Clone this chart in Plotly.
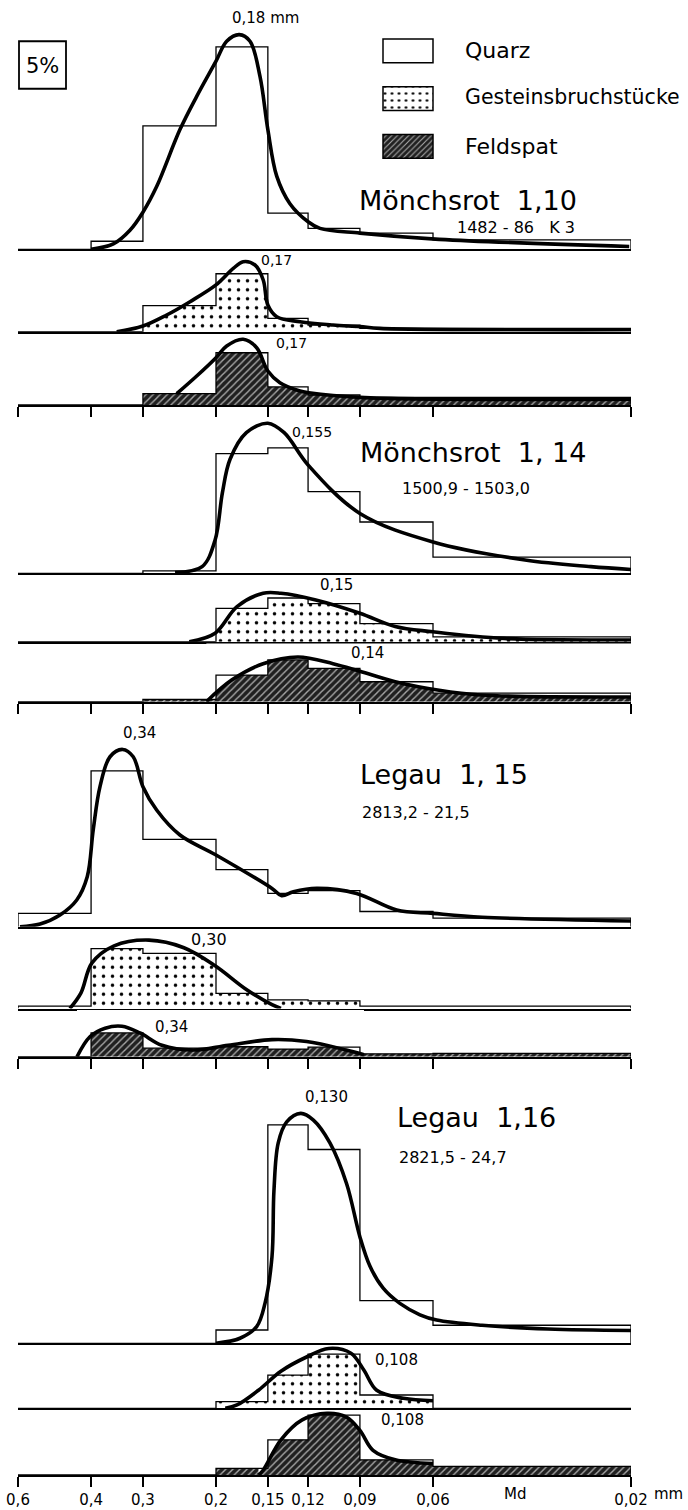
import math
import plotly.graph_objects as go

W, H = 688, 1510
PX_PER_PCT = 9.5
FONT = "DejaVu Sans"

# ---------------- data ----------------
EDGES = [0.6, 0.4, 0.3, 0.2, 0.15, 0.12, 0.09, 0.06, 0.02]
EDGE_LABELS = ["0,6", "0,4", "0,3", "0,2", "0,15", "0,12", "0,09", "0,06", "0,02"]
LEGEND_NAMES = ["Quarz", "Gesteinsbruchstücke", "Feldspat"]

# histogram values in % for the 8 bins between EDGES
m110_quarz = [0, 0.85, 13.0, 21.3, 3.8, 2.2, 1.7, 1.0]
m110_gestein = [0, 0, 2.75, 6.1, 1.4, 0.7, 0.35, 0.35]
m110_feldspat = [0, 0, 1.2, 5.5, 1.9, 1.05, 0.8, 0.8]
m114_quarz = [0, 0, 0.25, 12.6, 13.2, 8.6, 5.4, 1.7]
m114_gestein = [0, 0, 0, 3.5, 4.6, 4.0, 1.9, 0.5]
m114_feldspat = [0, 0, 0.25, 2.8, 4.4, 3.5, 2.1, 0.9]
l115_quarz = [1.4, 16.4, 9.2, 6.0, 3.5, 3.8, 1.6, 0.9]
l115_gestein = [0.25, 6.3, 5.8, 1.6, 0.9, 0.8, 0.25, 0.25]
l115_feldspat = [0, 2.5, 0.9, 1.05, 0.8, 1.0, 0.3, 0.35]
l116_quarz = [0, 0, 0, 1.4, 23.0, 20.4, 4.5, 1.9]
l116_gestein = [0, 0, 0, 0.7, 3.5, 5.7, 1.4, 0]
l116_feldspat = [0, 0, 0, 0.7, 3.7, 6.3, 1.6, 0.9]

# smoothed frequency curves (grain size mm, %)
m110_quarz_cx = [0.40, 0.3535, 0.3224, 0.30, 0.278, 0.2443, 0.2226, 0.20, 0.1885, 0.1758, 0.1656,
                 0.1567, 0.15, 0.1428, 0.1327, 0.12, 0.1123, 0.09, 0.058, 0.0202]
m110_quarz_cy = [0, 0.56, 2.0, 3.9, 6.6, 12.6, 16.1, 19.8, 21.9, 22.6, 21.9,
                 18.2, 12.6, 7.7, 4.8, 2.9, 2.2, 1.7, 1.05, 0.3]
m110_gestein_cx = [0.347, 0.30, 0.263, 0.231, 0.20, 0.1817, 0.172, 0.1611, 0.1539, 0.15, 0.1428,
                   0.1255, 0.1045, 0.09, 0.0805, 0.02]
m110_gestein_cy = [0, 0.6, 1.76, 3.16, 4.92, 6.66, 7.37, 7.02, 5.44, 2.81, 1.58,
                   1.05, 0.7, 0.53, 0.35, 0.2]
m110_feldspat_cx = [0.2487, 0.2226, 0.20, 0.1885, 0.172, 0.1596, 0.15, 0.1403, 0.1255, 0.1195, 0.09, 0.02]
m110_feldspat_cy = [1.19, 3.05, 4.98, 6.21, 6.92, 6.03, 3.58, 2.35, 1.47, 1.29, 0.8, 0.6]

m114_quarz_cx = [0.251, 0.216, 0.201, 0.193, 0.185, 0.169, 0.15, 0.137, 0.12, 0.09, 0.06, 0.036, 0.025, 0.02]
m114_quarz_cy = [0.07, 0.7, 3.5, 8.5, 12.0, 14.8, 15.8, 14.8, 11.4, 6.3, 3.3, 1.4, 0.7, 0.4]
m114_gestein_cx = [0.232, 0.201, 0.178, 0.154, 0.1395, 0.115, 0.09, 0.074, 0.06, 0.0405, 0.02]
m114_gestein_cy = [0, 0.9, 3.7, 5.1, 5.1, 4.4, 3.0, 1.6, 1.05, 0.35, 0.18]
m114_feldspat_cx = [0.211, 0.183, 0.154, 0.127, 0.1045, 0.09, 0.074, 0.058, 0.046, 0.02]
m114_feldspat_cy = [0, 2.3, 4.0, 4.7, 4.0, 3.2, 2.1, 1.2, 0.7, 0.5]

l115_quarz_cx = [0.5934, 0.531, 0.4753, 0.4331, 0.4086, 0.3953, 0.3807, 0.3601, 0.3357, 0.3166, 0.30,
                 0.278, 0.2443, 0.20, 0.1466, 0.139, 0.1302, 0.1144, 0.0917, 0.0734, 0.06, 0.0457, 0.02]
l115_quarz_cy = [0, 0.28, 1.23, 2.81, 5.26, 10.18, 14.74, 17.89, 18.66, 17.89, 14.74,
                 12.28, 9.65, 7.55, 4.03, 3.26, 3.68, 4.03, 3.5, 1.76, 1.4, 1.0, 0.6]
l115_gestein_cx = [0.45, 0.423, 0.398, 0.352, 0.29, 0.239, 0.201, 0.169, 0.1466, 0.1395]
l115_gestein_cy = [0, 1.65, 4.8, 6.6, 7.2, 6.4, 4.5, 2.0, 0.4, 0]
l115_feldspat_cx = [0.4325, 0.4025, 0.37, 0.337, 0.305, 0.27, 0.227, 0.187, 0.1466, 0.121, 0.097, 0.088]
l115_feldspat_cy = [0, 2.1, 3.0, 3.2, 2.5, 1.2, 0.7, 1.2, 1.8, 1.6, 0.7, 0.2]

l116_quarz_cx = [0.2, 0.1751, 0.1596, 0.1524, 0.1466, 0.145, 0.1416, 0.1351, 0.125, 0.1165, 0.1063,
                 0.0969, 0.09, 0.0851, 0.0791, 0.0721, 0.0645, 0.0588, 0.0457, 0.0317, 0.02]
l116_quarz_cy = [0, 0.53, 1.76, 4.2, 9.1, 16.1, 21.1, 23.3, 24.2, 23.5, 21.1,
                 16.8, 11.2, 8.1, 5.8, 4.2, 3.0, 2.45, 1.9, 1.5, 1.35]
l116_gestein_cx = [0.19, 0.178, 0.158, 0.1395, 0.121, 0.107, 0.0946, 0.088, 0.082, 0.0707, 0.06]
l116_gestein_cy = [0, 0.35, 1.9, 3.9, 5.4, 6.3, 5.8, 4.0, 1.9, 1.05, 0.8]
l116_feldspat_cx = [0.158, 0.154, 0.1395, 0.124, 0.108, 0.097, 0.09, 0.0837, 0.074, 0.06]
l116_feldspat_cy = [0, 0.5, 3.7, 5.8, 6.5, 6.1, 4.7, 2.6, 1.6, 1.2]

PANELS = [
    ("quarz", m110_quarz, m110_quarz_cx, m110_quarz_cy),
    ("gestein", m110_gestein, m110_gestein_cx, m110_gestein_cy),
    ("feldspat", m110_feldspat, m110_feldspat_cx, m110_feldspat_cy),
    ("quarz", m114_quarz, m114_quarz_cx, m114_quarz_cy),
    ("gestein", m114_gestein, m114_gestein_cx, m114_gestein_cy),
    ("feldspat", m114_feldspat, m114_feldspat_cx, m114_feldspat_cy),
    ("quarz", l115_quarz, l115_quarz_cx, l115_quarz_cy),
    ("gestein", l115_gestein, l115_gestein_cx, l115_gestein_cy),
    ("feldspat", l115_feldspat, l115_feldspat_cx, l115_feldspat_cy),
    ("quarz", l116_quarz, l116_quarz_cx, l116_quarz_cy),
    ("gestein", l116_gestein, l116_gestein_cx, l116_gestein_cy),
    ("feldspat", l116_feldspat, l116_feldspat_cx, l116_feldspat_cy),
]

# ---------------- layout geometry (pixels) ----------------
BASE_PX = [249.3, 331.7, 405, 573.3, 641.7, 701.7, 926.7, 1008.5, 1056.7, 1343.3, 1408.3, 1475]
TOP_PX = [0] + BASE_PX[:-1]
X_LEFT_PX, X_RIGHT_PX = 18, 631


def fx(px):
    return px / W


def fy(px):
    return 1 - px / H


DOTS = dict(shape=".", fgcolor="black", bgcolor="white", size=9, solidity=0.12)
HATCH = dict(shape="/", fgcolor="#a8a8a8", bgcolor="#202020", size=5, solidity=0.28)
PATTERN = {"gestein": DOTS, "feldspat": HATCH}
BGCOL = {"gestein": "white", "feldspat": "#202020"}

fig = go.Figure()
layout = dict(
    template="none",
    width=W, height=H, margin=dict(l=0, r=0, t=0, b=0, pad=0, autoexpand=False),
    paper_bgcolor="white", plot_bgcolor="rgba(0,0,0,0)",
    showlegend=False, font=dict(family=FONT, color="black"),
)

xrange = [math.log10(EDGES[0]), math.log10(EDGES[-1])]

for i, (kind, hist, cx, cy) in enumerate(PANELS):
    k = i + 1
    xa = "x" if k == 1 else f"x{k}"
    ya = "y" if k == 1 else f"y{k}"
    ymax = (BASE_PX[i] - TOP_PX[i]) / PX_PER_PCT
    xs = [EDGES[0]] + EDGES[:-1] + [EDGES[-1]]
    ys = [0] + list(hist) + [0]
    common = dict(xaxis=xa, yaxis=ya, hoverinfo="skip")
    if kind != "quarz":
        # patterned area of the histogram
        fig.add_trace(go.Scatter(x=xs, y=ys, mode="lines", line=dict(shape="hv", width=0),
                                 fill="tozeroy", fillcolor=BGCOL[kind], fillpattern=PATTERN[kind],
                                 **common))
        # white above the smoothed curve: pattern only shows below both histogram and curve
        fig.add_trace(go.Scatter(x=cx, y=cy, mode="lines",
                                 line=dict(shape="spline", smoothing=1.0, width=0), **common))
        fig.add_trace(go.Scatter(x=cx, y=[ymax * 0.97] * len(cx), mode="lines", line=dict(width=0),
                                 fill="tonexty", fillcolor="white", **common))
    # histogram outline
    fig.add_trace(go.Scatter(x=xs, y=ys, mode="lines",
                             line=dict(shape="hv", color="black", width=1.3), **common))
    # smoothed curve
    fig.add_trace(go.Scatter(x=cx, y=cy, mode="lines",
                             line=dict(shape="spline", smoothing=1.0, color="black", width=3.6),
                             **common))
    is_feld = kind == "feldspat"
    xaxis = dict(
        type="log", range=xrange, domain=[fx(X_LEFT_PX), fx(X_RIGHT_PX)], anchor=ya,
        automargin=False, layer="above traces",
        showgrid=False, zeroline=False, showline=True, linecolor="black", linewidth=2.2,
        tickmode="array", tickvals=EDGES, ticktext=EDGE_LABELS,
        ticks="outside" if is_feld else "", ticklen=10, tickwidth=2, tickcolor="black",
        showticklabels=(k == len(PANELS)), tickfont=dict(family=FONT, size=15, color="black"),
    )
    if k > 1:
        xaxis["matches"] = "x"
    yaxis = dict(
        domain=[fy(BASE_PX[i]), fy(TOP_PX[i])],
        range=[0, ymax],
        visible=False, anchor=xa, fixedrange=True, automargin=False,
    )
    layout["xaxis" if k == 1 else f"xaxis{k}"] = xaxis
    layout["yaxis" if k == 1 else f"yaxis{k}"] = yaxis

# legend swatches drawn as bars on their own small axes
fig.add_trace(go.Bar(
    y=LEGEND_NAMES, x=[1, 1, 1], orientation="h", width=0.5, xaxis="x13", yaxis="y13",
    marker=dict(color="white", line=dict(color="black", width=1.5),
                pattern=dict(shape=["", ".", "/"], fgcolor=["black", "black", "#a8a8a8"],
                             bgcolor=["white", "white", "#202020"], size=[6, 7, 4],
                             solidity=[0.2, 0.12, 0.28])),
    hoverinfo="skip",
))
layout["xaxis13"] = dict(domain=[fx(381.5), fx(434.5)], range=[-0.03, 1.03], visible=False,
                         anchor="y13", fixedrange=True, automargin=False)
layout["yaxis13"] = dict(domain=[fy(170.25), fy(27)], type="category", range=[2.5, -0.5],
                         visible=False, anchor="x13", fixedrange=True, automargin=False)

# 5% scale box (height = 5 % on the first panel's scale)
shapes = [dict(type="rect", xref="paper", yref="y", x0=fx(19), x1=fx(66), y0=16.9, y1=21.9,
               line=dict(color="black", width=1.8), fillcolor="rgba(0,0,0,0)")]

TEXTS = [
    ("0,18 mm", 265, 18, 15, "center"),
    ("5%", 42.5, 66, 21, "center"),
    ("Quarz", 463, 51, 22, "left"),
    ("Gesteinsbruchstücke", 463, 97, 20.5, "left"),
    ("Feldspat", 463, 147, 22, "left"),
    ("Mönchsrot\u00a0 1,10", 357, 200, 27, "left"),
    ("1482\u00a0-\u00a086\u00a0\u00a0 K\u00a03", 455, 227, 16, "left"),
    ("0,17", 259, 260, 14, "left"),
    ("0,17", 274, 343, 14, "left"),
    ("0,155", 290, 432, 14, "left"),
    ("Mönchsrot\u00a0 1,\u00a014", 358, 452, 27, "left"),
    ("1500,9 - 1503,0", 400, 488, 16, "left"),
    ("0,15", 318, 585, 15, "left"),
    ("0,14", 349, 653, 15, "left"),
    ("0,34", 121, 733, 15, "left"),
    ("Legau\u00a0 1,\u00a015", 358, 774, 27, "left"),
    ("2813,2 - 21,5", 360, 812, 16, "left"),
    ("0,30", 189, 939, 16, "left"),
    ("0,34", 153, 1027, 15, "left"),
    ("0,130", 303, 1097, 15, "left"),
    ("Legau\u00a0 1,16", 395, 1117, 27, "left"),
    ("2821,5 - 24,7", 397, 1157, 16, "left"),
    ("0,108", 373, 1360, 15, "left"),
    ("0,108", 379, 1420, 15, "left"),
    ("Md", 515, 1494, 15, "center"),
    ("mm", 652, 1494, 15, "left"),
]
annotations = [
    dict(text=t, x=fx(x), y=fy(y), xref="paper", yref="paper", xanchor=a, yanchor="middle",
         showarrow=False, font=dict(family=FONT, size=s, color="black"))
    for (t, x, y, s, a) in TEXTS
]

layout["shapes"] = shapes
layout["annotations"] = annotations
fig.update_layout(**layout)

fig.write_html("out.html", config={"displayModeBar": False},
               post_script="document.body.style.margin='0';document.body.style.overflow='hidden';")
